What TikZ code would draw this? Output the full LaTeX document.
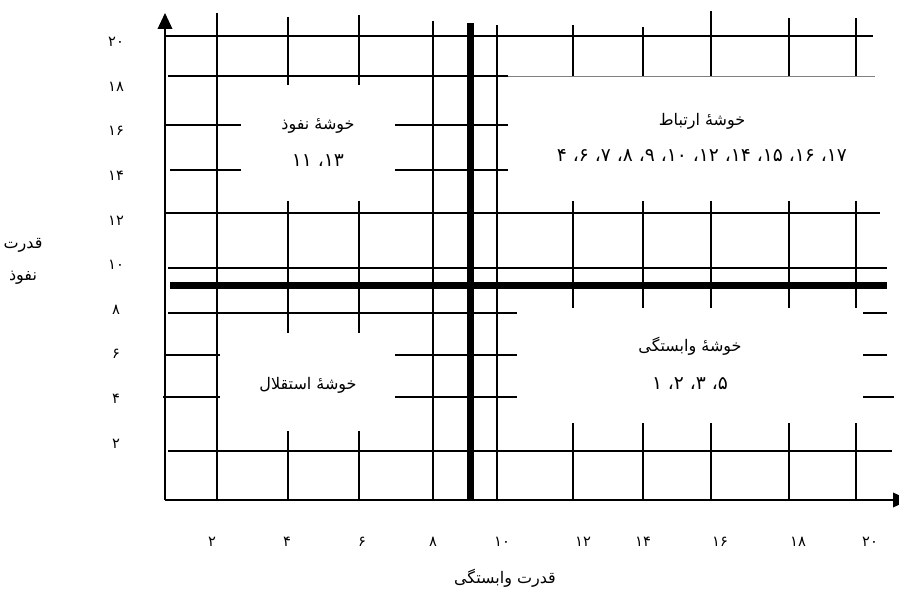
\documentclass[tikz,border=0pt]{standalone}
\usepackage{fontspec}
\usepackage{tikz}
\usetikzlibrary{arrows.meta}
\TeXXeTstate=1
\newfontfamily\fafont[Script=Arabic]{DejaVu Sans}

\begin{document}
\begin{tikzpicture}[
  x=0.75pt, y=-0.75pt,
  ln/.style={line width=1pt},
  thk/.style={line width=5.25pt},
  axis/.style={line width=1.2pt, -{Triangle[length=12pt,width=11pt]}},
  lbl/.style={font=\fafont\fontsize{12}{14}\selectfont, inner sep=1pt},
  big/.style={font=\fafont\fontsize{14}{16}\selectfont, inner sep=1pt},
  num/.style={font=\fafont\fontsize{11}{13}\selectfont, inner sep=1pt}]
\useasboundingbox (0,0) rectangle (899,591);
\clip (0,0) rectangle (899,591);
\draw[ln] (165,36) -- (873,36)
  (168,76) -- (508,76)
  (165,125) -- (241,125) (395,125) -- (508,125)
  (170,170) -- (241,170) (395,170) -- (508,170)
  (165,213) -- (880,213)
  (168,268) -- (887,268)
  (168,313) -- (517,313) (863,313) -- (887,313)
  (165,355) -- (220,355) (395,355) -- (517,355) (863,355) -- (887,355)
  (163,397) -- (220,397) (395,397) -- (517,397) (863,397) -- (894,397)
  (168,451) -- (892,451);
\draw[gray, line width=0.6pt] (508,76) -- (875,76);
\draw[ln] (217,13) -- (217,500) (433,21) -- (433,500) (497,25) -- (497,500);
\foreach \x/\t in {288/17, 359/15}
  \draw[ln] (\x,\t) -- (\x,85) (\x,201) -- (\x,333) (\x,431) -- (\x,500);
\foreach \x/\t in {573/25, 643/27, 711/11, 789/18, 856/18}
  \draw[ln] (\x,\t) -- (\x,76) (\x,201) -- (\x,308) (\x,423) -- (\x,500);
\draw[thk] (170,286) -- (887,286);
\draw[thk] (470,23) -- (470,500);
\draw[axis] (165,500) -- (165,13);
\draw[axis] (165,500) -- (909,500);

\foreach \v [count=\k from 0] in {۲۰,۱۸,۱۶,۱۴,۱۲,۱۰,۸,۶,۴,۲}
  \node[num] (y\k) at (116,{42+44.6*\k}) {\v};
\foreach \x/\v [count=\k] in {212/۲, 287/۴, 362/۶, 433/۸, 502/۱۰, 583/۱۲, 643/۱۴, 720/۱۶, 798/۱۸, 870/۲۰}
  \node[num] (x\k) at (\x,542) {\v};
\node[lbl] (ytitle) at (23,245) {قدرت};
\node[lbl] (ytitle2) at (23,278) {نفوذ};
\node[lbl] (xtitle) at (505,578) {\beginR قدرت وابستگی\endR};

\node[lbl] (infl) at (318,126) {\beginR خوشهٔ نفوذ\endR};
\node[big] (infln) at (318,161) {\beginR ۱۳، ۱۱\endR};
\node[lbl] (link) at (702,121) {\beginR خوشهٔ ارتباط\endR};
\node[big] (linkn) at (702,156) {\beginR ۱۷، ۱۶، ۱۵، ۱۴، ۱۲، ۱۰، ۹، ۸، ۷، ۶، ۴\endR};
\node[lbl] (dep) at (690,346) {\beginR خوشهٔ وابستگی\endR};
\node[big] (depn) at (690,384) {\beginR ۵، ۳، ۲، ۱\endR};
\node[lbl] (auto) at (308,385) {\beginR خوشهٔ استقلال\endR};
\end{tikzpicture}
\end{document}
